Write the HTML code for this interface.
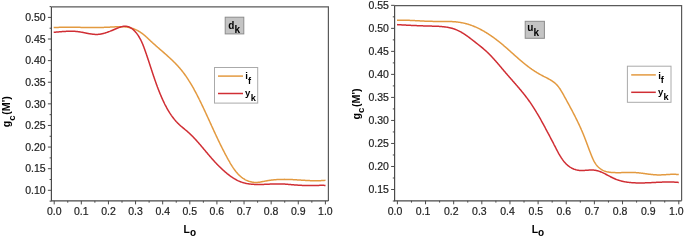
<!DOCTYPE html>
<html><head><meta charset="utf-8"><style>
html,body{margin:0;padding:0;background:#fff;}
body{width:685px;height:241px;overflow:hidden;}
svg{display:block;will-change:transform;}
text{font-family:"Liberation Sans",sans-serif;}
.tk{font-size:10.5px;fill:#222222;stroke:#222222;stroke-width:0.2px;}
.tt{font-size:10.0px;font-weight:bold;fill:#000;}
.ts{font-size:10px;font-weight:bold;fill:#000;}
</style></head><body>
<svg width="685" height="241" viewBox="0 0 685 241">
<path d="M51.40,6.90 H328.40 V200.90" fill="none" stroke="#5a5a5a" stroke-width="1.20"/>
<path d="M51.40,6.90 V200.90 H328.40" fill="none" stroke="#4a4a4a" stroke-width="1.20"/>
<text x="45.70" y="194.10" text-anchor="end" class="tk">0.10</text>
<text x="45.70" y="172.49" text-anchor="end" class="tk">0.15</text>
<text x="45.70" y="150.88" text-anchor="end" class="tk">0.20</text>
<text x="45.70" y="129.26" text-anchor="end" class="tk">0.25</text>
<text x="45.70" y="107.65" text-anchor="end" class="tk">0.30</text>
<text x="45.70" y="86.04" text-anchor="end" class="tk">0.35</text>
<text x="45.70" y="64.42" text-anchor="end" class="tk">0.40</text>
<text x="45.70" y="42.81" text-anchor="end" class="tk">0.45</text>
<text x="45.70" y="21.20" text-anchor="end" class="tk">0.50</text>
<text x="54.20" y="215.40" text-anchor="middle" class="tk">0.0</text>
<text x="81.32" y="215.40" text-anchor="middle" class="tk">0.1</text>
<text x="108.44" y="215.40" text-anchor="middle" class="tk">0.2</text>
<text x="135.56" y="215.40" text-anchor="middle" class="tk">0.3</text>
<text x="162.68" y="215.40" text-anchor="middle" class="tk">0.4</text>
<text x="189.80" y="215.40" text-anchor="middle" class="tk">0.5</text>
<text x="216.92" y="215.40" text-anchor="middle" class="tk">0.6</text>
<text x="244.04" y="215.40" text-anchor="middle" class="tk">0.7</text>
<text x="271.16" y="215.40" text-anchor="middle" class="tk">0.8</text>
<text x="298.28" y="215.40" text-anchor="middle" class="tk">0.9</text>
<text x="325.40" y="215.40" text-anchor="middle" class="tk">1.0</text>
<path d="M47.90,190.30 H51.40 M49.60,179.49 H51.40 M49.60,201.11 H51.40 M47.90,168.69 H51.40 M49.60,157.88 H51.40 M47.90,147.07 H51.40 M49.60,136.27 H51.40 M47.90,125.46 H51.40 M49.60,114.66 H51.40 M47.90,103.85 H51.40 M49.60,93.04 H51.40 M47.90,82.24 H51.40 M49.60,71.43 H51.40 M47.90,60.62 H51.40 M49.60,49.82 H51.40 M47.90,39.01 H51.40 M49.60,28.21 H51.40 M47.90,17.40 H51.40 M49.60,6.59 H51.40 M54.20,200.90 V204.40 M67.76,200.90 V202.70 M81.32,200.90 V204.40 M94.88,200.90 V202.70 M108.44,200.90 V204.40 M122.00,200.90 V202.70 M135.56,200.90 V204.40 M149.12,200.90 V202.70 M162.68,200.90 V204.40 M176.24,200.90 V202.70 M189.80,200.90 V204.40 M203.36,200.90 V202.70 M216.92,200.90 V204.40 M230.48,200.90 V202.70 M244.04,200.90 V204.40 M257.60,200.90 V202.70 M271.16,200.90 V204.40 M284.72,200.90 V202.70 M298.28,200.90 V204.40 M311.84,200.90 V202.70 M325.40,200.90 V204.40" fill="none" stroke="#4a4a4a" stroke-width="1.00"/>
<path d="M53.69,27.55 L54.28,27.52 L54.87,27.50 L55.46,27.47 L56.05,27.45 L56.64,27.43 L57.24,27.41 L57.83,27.39 L58.42,27.38 L59.01,27.36 L59.60,27.35 L60.19,27.34 L60.78,27.32 L61.37,27.31 L61.96,27.30 L62.55,27.30 L63.14,27.29 L63.73,27.28 L64.32,27.28 L64.91,27.27 L65.50,27.27 L66.09,27.27 L66.67,27.26 L67.26,27.26 L67.85,27.26 L68.44,27.26 L69.03,27.26 L69.62,27.26 L70.21,27.27 L70.79,27.27 L71.38,27.27 L71.97,27.28 L72.56,27.28 L73.15,27.29 L73.73,27.29 L74.32,27.30 L74.91,27.30 L75.50,27.31 L76.09,27.32 L76.67,27.33 L77.26,27.33 L77.85,27.34 L78.44,27.35 L79.02,27.36 L79.61,27.36 L80.20,27.37 L80.79,27.38 L81.37,27.39 L81.96,27.40 L82.55,27.40 L83.14,27.41 L83.72,27.42 L84.31,27.43 L84.90,27.44 L85.49,27.44 L86.07,27.45 L86.66,27.46 L87.25,27.46 L87.84,27.47 L88.42,27.48 L89.01,27.48 L89.60,27.49 L90.19,27.49 L90.78,27.49 L91.36,27.50 L91.95,27.50 L92.54,27.50 L93.13,27.50 L93.72,27.50 L94.30,27.51 L94.89,27.50 L95.48,27.50 L96.07,27.50 L96.66,27.50 L97.25,27.49 L97.84,27.49 L98.43,27.48 L99.01,27.48 L99.60,27.47 L100.19,27.46 L100.78,27.45 L101.37,27.44 L101.96,27.43 L102.55,27.42 L103.14,27.40 L103.73,27.39 L104.32,27.37 L104.91,27.35 L105.50,27.33 L106.09,27.31 L106.69,27.29 L107.28,27.27 L107.87,27.24 L108.46,27.21 L109.05,27.19 L109.64,27.16 L110.24,27.12 L110.83,27.09 L111.42,27.06 L112.01,27.02 L112.60,26.99 L113.20,26.96 L113.79,26.92 L114.38,26.89 L114.97,26.86 L115.56,26.83 L116.16,26.80 L116.75,26.77 L117.34,26.75 L117.93,26.73 L118.52,26.71 L119.11,26.70 L119.69,26.69 L120.28,26.69 L120.87,26.69 L121.45,26.70 L122.04,26.71 L122.62,26.73 L123.21,26.76 L123.79,26.79 L124.37,26.83 L124.95,26.88 L125.53,26.94 L126.11,27.01 L126.68,27.08 L127.26,27.16 L127.83,27.26 L128.40,27.36 L128.97,27.48 L129.54,27.60 L130.11,27.74 L130.67,27.89 L131.23,28.04 L131.79,28.21 L132.35,28.39 L132.91,28.58 L133.46,28.78 L134.01,28.98 L134.55,29.20 L135.10,29.43 L135.64,29.67 L136.17,29.91 L136.70,30.17 L137.23,30.43 L137.75,30.70 L138.27,30.98 L138.78,31.27 L139.29,31.57 L139.80,31.88 L140.30,32.19 L140.79,32.52 L141.28,32.85 L141.76,33.18 L142.24,33.53 L142.71,33.88 L143.17,34.24 L143.63,34.61 L144.08,34.98 L144.53,35.36 L144.98,35.75 L145.42,36.13 L145.85,36.53 L146.29,36.92 L146.72,37.32 L147.15,37.72 L147.58,38.13 L148.01,38.53 L148.44,38.94 L148.87,39.34 L149.30,39.75 L149.72,40.15 L150.15,40.56 L150.59,40.96 L151.02,41.36 L151.45,41.76 L151.89,42.16 L152.32,42.56 L152.76,42.95 L153.20,43.35 L153.64,43.75 L154.08,44.14 L154.52,44.53 L154.97,44.92 L155.41,45.32 L155.85,45.71 L156.30,46.10 L156.74,46.49 L157.19,46.88 L157.63,47.27 L158.08,47.65 L158.53,48.04 L158.97,48.43 L159.42,48.82 L159.87,49.20 L160.31,49.59 L160.76,49.98 L161.21,50.37 L161.65,50.75 L162.10,51.14 L162.55,51.53 L162.99,51.92 L163.44,52.31 L163.88,52.69 L164.33,53.08 L164.77,53.47 L165.22,53.86 L165.66,54.25 L166.10,54.64 L166.54,55.04 L166.98,55.43 L167.42,55.82 L167.86,56.22 L168.30,56.61 L168.73,57.01 L169.17,57.40 L169.60,57.80 L170.04,58.20 L170.47,58.60 L170.90,59.00 L171.32,59.41 L171.75,59.81 L172.18,60.22 L172.60,60.62 L173.02,61.03 L173.44,61.44 L173.86,61.85 L174.27,62.27 L174.69,62.68 L175.10,63.10 L175.51,63.52 L175.92,63.94 L176.32,64.36 L176.73,64.79 L177.13,65.22 L177.53,65.65 L177.92,66.08 L178.31,66.51 L178.71,66.95 L179.09,67.39 L179.48,67.83 L179.86,68.27 L180.24,68.72 L180.62,69.16 L180.99,69.62 L181.36,70.07 L181.73,70.52 L182.10,70.98 L182.46,71.44 L182.82,71.91 L183.18,72.37 L183.53,72.84 L183.88,73.31 L184.23,73.78 L184.58,74.25 L184.93,74.73 L185.27,75.21 L185.61,75.69 L185.95,76.17 L186.28,76.65 L186.62,77.14 L186.95,77.63 L187.27,78.11 L187.60,78.61 L187.92,79.10 L188.25,79.59 L188.57,80.09 L188.88,80.59 L189.20,81.08 L189.51,81.58 L189.82,82.09 L190.13,82.59 L190.44,83.10 L190.75,83.60 L191.05,84.11 L191.35,84.62 L191.65,85.13 L191.95,85.64 L192.25,86.15 L192.54,86.67 L192.84,87.18 L193.13,87.70 L193.42,88.21 L193.71,88.73 L193.99,89.25 L194.28,89.77 L194.56,90.29 L194.84,90.81 L195.12,91.33 L195.40,91.85 L195.68,92.38 L195.96,92.90 L196.23,93.43 L196.51,93.95 L196.78,94.48 L197.05,95.00 L197.32,95.53 L197.59,96.06 L197.86,96.58 L198.13,97.11 L198.39,97.64 L198.66,98.17 L198.92,98.70 L199.18,99.23 L199.45,99.75 L199.71,100.28 L199.97,100.81 L200.23,101.34 L200.48,101.87 L200.74,102.40 L201.00,102.93 L201.26,103.46 L201.51,103.99 L201.76,104.52 L202.02,105.05 L202.27,105.58 L202.52,106.11 L202.78,106.64 L203.03,107.17 L203.28,107.70 L203.53,108.23 L203.78,108.76 L204.03,109.29 L204.27,109.82 L204.52,110.35 L204.77,110.88 L205.02,111.41 L205.26,111.94 L205.51,112.47 L205.75,113.00 L206.00,113.53 L206.25,114.06 L206.49,114.60 L206.73,115.13 L206.98,115.66 L207.22,116.19 L207.46,116.72 L207.71,117.25 L207.95,117.78 L208.19,118.31 L208.44,118.84 L208.68,119.37 L208.92,119.90 L209.16,120.44 L209.41,120.97 L209.65,121.50 L209.89,122.03 L210.13,122.56 L210.37,123.09 L210.62,123.62 L210.86,124.15 L211.10,124.68 L211.34,125.21 L211.58,125.75 L211.83,126.28 L212.07,126.81 L212.31,127.34 L212.55,127.87 L212.80,128.40 L213.04,128.93 L213.28,129.46 L213.53,129.99 L213.77,130.52 L214.02,131.06 L214.26,131.59 L214.51,132.12 L214.75,132.65 L215.00,133.18 L215.24,133.71 L215.49,134.24 L215.74,134.77 L215.99,135.30 L216.23,135.83 L216.48,136.36 L216.73,136.89 L216.98,137.42 L217.23,137.95 L217.48,138.48 L217.73,139.01 L217.99,139.54 L218.24,140.07 L218.49,140.60 L218.75,141.13 L219.00,141.66 L219.26,142.19 L219.51,142.72 L219.77,143.25 L220.03,143.78 L220.29,144.31 L220.55,144.84 L220.81,145.37 L221.07,145.90 L221.33,146.43 L221.60,146.96 L221.86,147.48 L222.13,148.01 L222.39,148.54 L222.66,149.07 L222.93,149.60 L223.20,150.13 L223.47,150.66 L223.74,151.18 L224.01,151.71 L224.29,152.24 L224.56,152.77 L224.84,153.30 L225.12,153.82 L225.39,154.35 L225.67,154.88 L225.96,155.40 L226.24,155.93 L226.52,156.46 L226.81,156.99 L227.09,157.51 L227.38,158.04 L227.67,158.57 L227.96,159.09 L228.25,159.62 L228.55,160.14 L228.84,160.67 L229.14,161.19 L229.44,161.72 L229.74,162.24 L230.04,162.77 L230.35,163.29 L230.65,163.81 L230.96,164.32 L231.28,164.84 L231.59,165.35 L231.91,165.86 L232.23,166.37 L232.56,166.87 L232.88,167.37 L233.22,167.87 L233.55,168.36 L233.89,168.85 L234.23,169.33 L234.58,169.81 L234.93,170.29 L235.29,170.76 L235.65,171.22 L236.01,171.68 L236.38,172.13 L236.76,172.58 L237.14,173.02 L237.52,173.45 L237.92,173.87 L238.31,174.29 L238.71,174.70 L239.12,175.11 L239.54,175.50 L239.96,175.89 L240.38,176.27 L240.81,176.64 L241.25,177.00 L241.70,177.36 L242.15,177.70 L242.61,178.03 L243.08,178.36 L243.55,178.67 L244.04,178.97 L244.53,179.26 L245.02,179.55 L245.53,179.82 L246.04,180.07 L246.56,180.32 L247.09,180.56 L247.63,180.78 L248.17,180.99 L248.72,181.19 L249.27,181.37 L249.84,181.54 L250.40,181.70 L250.97,181.84 L251.55,181.97 L252.12,182.09 L252.70,182.19 L253.29,182.27 L253.87,182.34 L254.46,182.39 L255.05,182.43 L255.64,182.45 L256.23,182.45 L256.82,182.44 L257.41,182.41 L258.00,182.36 L258.59,182.30 L259.18,182.23 L259.77,182.14 L260.36,182.04 L260.95,181.94 L261.54,181.83 L262.12,181.72 L262.71,181.60 L263.30,181.48 L263.88,181.36 L264.47,181.24 L265.05,181.12 L265.64,181.01 L266.22,180.90 L266.81,180.80 L267.39,180.70 L267.98,180.60 L268.56,180.51 L269.15,180.42 L269.73,180.34 L270.31,180.26 L270.90,180.18 L271.48,180.11 L272.06,180.04 L272.65,179.98 L273.23,179.91 L273.81,179.86 L274.40,179.80 L274.98,179.75 L275.56,179.70 L276.15,179.66 L276.73,179.62 L277.31,179.58 L277.90,179.55 L278.48,179.52 L279.06,179.49 L279.65,179.47 L280.23,179.44 L280.81,179.43 L281.40,179.41 L281.98,179.40 L282.56,179.39 L283.15,179.38 L283.73,179.38 L284.32,179.37 L284.90,179.38 L285.48,179.38 L286.07,179.39 L286.66,179.39 L287.24,179.41 L287.83,179.42 L288.41,179.44 L289.00,179.45 L289.59,179.48 L290.17,179.50 L290.76,179.52 L291.35,179.55 L291.93,179.58 L292.52,179.60 L293.11,179.63 L293.70,179.67 L294.29,179.70 L294.87,179.73 L295.46,179.77 L296.05,179.80 L296.64,179.84 L297.23,179.88 L297.82,179.92 L298.41,179.96 L299.00,179.99 L299.59,180.03 L300.18,180.07 L300.77,180.11 L301.36,180.15 L301.95,180.19 L302.53,180.23 L303.12,180.26 L303.71,180.30 L304.30,180.34 L304.89,180.37 L305.48,180.41 L306.07,180.44 L306.66,180.48 L307.25,180.51 L307.84,180.54 L308.43,180.57 L309.02,180.59 L309.61,180.62 L310.20,180.64 L310.79,180.66 L311.38,180.68 L311.97,180.70 L312.56,180.72 L313.15,180.73 L313.74,180.74 L314.33,180.75 L314.92,180.75 L315.51,180.76 L316.10,180.76 L316.69,180.75 L317.27,180.75 L317.86,180.74 L318.45,180.73 L319.04,180.71 L319.63,180.69 L320.21,180.67 L320.80,180.64 L321.39,180.61 L321.98,180.57 L322.56,180.53 L323.15,180.49 L323.74,180.44 L324.32,180.39 L324.91,180.34 L325.49,180.27" fill="none" stroke="#e39a40" stroke-width="1.50" stroke-linejoin="round" stroke-linecap="butt"/>
<path d="M53.68,32.27 L54.29,32.23 L54.90,32.19 L55.51,32.15 L56.11,32.10 L56.71,32.06 L57.32,32.01 L57.92,31.96 L58.52,31.91 L59.12,31.86 L59.71,31.81 L60.31,31.77 L60.91,31.72 L61.50,31.67 L62.09,31.62 L62.69,31.58 L63.28,31.53 L63.87,31.49 L64.46,31.45 L65.05,31.42 L65.64,31.38 L66.23,31.35 L66.82,31.32 L67.41,31.29 L68.00,31.27 L68.59,31.25 L69.18,31.23 L69.77,31.22 L70.36,31.22 L70.95,31.21 L71.55,31.22 L72.14,31.23 L72.73,31.24 L73.32,31.26 L73.91,31.28 L74.51,31.32 L75.10,31.35 L75.70,31.40 L76.30,31.45 L76.89,31.51 L77.49,31.58 L78.09,31.65 L78.69,31.73 L79.30,31.82 L79.90,31.92 L80.50,32.02 L81.11,32.12 L81.72,32.23 L82.32,32.35 L82.93,32.46 L83.54,32.58 L84.14,32.70 L84.75,32.82 L85.36,32.94 L85.96,33.07 L86.57,33.19 L87.18,33.31 L87.78,33.42 L88.39,33.53 L88.99,33.64 L89.60,33.75 L90.20,33.85 L90.80,33.94 L91.40,34.03 L92.00,34.11 L92.60,34.19 L93.19,34.25 L93.79,34.31 L94.38,34.35 L94.97,34.39 L95.56,34.41 L96.14,34.42 L96.73,34.42 L97.31,34.41 L97.89,34.38 L98.46,34.34 L99.03,34.29 L99.61,34.22 L100.18,34.14 L100.74,34.05 L101.31,33.95 L101.87,33.84 L102.44,33.72 L103.00,33.58 L103.56,33.44 L104.12,33.29 L104.68,33.13 L105.24,32.96 L105.80,32.78 L106.36,32.60 L106.91,32.41 L107.47,32.21 L108.03,32.01 L108.59,31.80 L109.15,31.58 L109.71,31.37 L110.27,31.14 L110.83,30.92 L111.40,30.69 L111.96,30.45 L112.53,30.22 L113.09,29.98 L113.66,29.74 L114.23,29.50 L114.81,29.26 L115.38,29.02 L115.96,28.77 L116.54,28.53 L117.13,28.29 L117.71,28.06 L118.30,27.83 L118.88,27.61 L119.47,27.40 L120.06,27.20 L120.64,27.01 L121.23,26.84 L121.81,26.69 L122.39,26.55 L122.97,26.44 L123.54,26.35 L124.11,26.28 L124.67,26.24 L125.23,26.23 L125.79,26.25 L126.34,26.30 L126.88,26.38 L127.41,26.49 L127.94,26.63 L128.47,26.80 L128.98,27.00 L129.49,27.22 L130.00,27.46 L130.49,27.73 L130.98,28.02 L131.47,28.33 L131.94,28.66 L132.41,29.01 L132.87,29.38 L133.32,29.77 L133.76,30.18 L134.20,30.60 L134.63,31.03 L135.05,31.48 L135.46,31.94 L135.87,32.41 L136.26,32.89 L136.65,33.38 L137.03,33.88 L137.40,34.39 L137.76,34.90 L138.11,35.42 L138.45,35.95 L138.79,36.47 L139.11,37.00 L139.43,37.53 L139.73,38.07 L140.03,38.60 L140.32,39.14 L140.60,39.67 L140.88,40.21 L141.14,40.75 L141.40,41.30 L141.66,41.84 L141.91,42.39 L142.15,42.93 L142.39,43.48 L142.62,44.03 L142.85,44.58 L143.07,45.13 L143.29,45.69 L143.50,46.24 L143.71,46.79 L143.92,47.35 L144.13,47.91 L144.33,48.46 L144.54,49.02 L144.74,49.58 L144.94,50.14 L145.14,50.70 L145.33,51.26 L145.53,51.82 L145.73,52.38 L145.92,52.94 L146.12,53.51 L146.31,54.07 L146.50,54.63 L146.70,55.20 L146.89,55.76 L147.08,56.32 L147.27,56.89 L147.46,57.46 L147.65,58.02 L147.84,58.59 L148.02,59.15 L148.21,59.72 L148.40,60.29 L148.59,60.85 L148.77,61.42 L148.96,61.99 L149.15,62.56 L149.33,63.13 L149.52,63.69 L149.71,64.26 L149.89,64.83 L150.08,65.40 L150.26,65.97 L150.45,66.54 L150.63,67.11 L150.82,67.68 L151.01,68.25 L151.19,68.82 L151.38,69.38 L151.57,69.95 L151.75,70.52 L151.94,71.09 L152.13,71.66 L152.31,72.23 L152.50,72.80 L152.69,73.37 L152.88,73.94 L153.07,74.51 L153.26,75.08 L153.45,75.64 L153.64,76.21 L153.83,76.78 L154.03,77.35 L154.22,77.92 L154.41,78.48 L154.61,79.05 L154.80,79.62 L155.00,80.19 L155.20,80.75 L155.40,81.32 L155.59,81.88 L155.79,82.45 L156.00,83.01 L156.20,83.58 L156.40,84.14 L156.61,84.71 L156.81,85.27 L157.02,85.83 L157.23,86.39 L157.43,86.96 L157.65,87.52 L157.86,88.08 L158.07,88.64 L158.28,89.20 L158.50,89.76 L158.72,90.32 L158.94,90.87 L159.16,91.43 L159.38,91.99 L159.60,92.55 L159.83,93.10 L160.06,93.66 L160.28,94.21 L160.51,94.76 L160.75,95.32 L160.98,95.87 L161.22,96.42 L161.45,96.97 L161.69,97.52 L161.94,98.07 L162.18,98.61 L162.42,99.16 L162.67,99.71 L162.92,100.25 L163.17,100.80 L163.43,101.34 L163.68,101.88 L163.94,102.42 L164.20,102.96 L164.47,103.50 L164.73,104.04 L165.00,104.57 L165.27,105.11 L165.55,105.64 L165.82,106.17 L166.10,106.70 L166.39,107.23 L166.67,107.75 L166.96,108.28 L167.25,108.80 L167.55,109.32 L167.84,109.83 L168.15,110.35 L168.45,110.86 L168.76,111.37 L169.07,111.88 L169.39,112.39 L169.70,112.89 L170.03,113.39 L170.35,113.89 L170.68,114.38 L171.02,114.87 L171.35,115.36 L171.70,115.85 L172.04,116.33 L172.39,116.81 L172.75,117.28 L173.11,117.75 L173.47,118.22 L173.84,118.69 L174.21,119.15 L174.58,119.61 L174.96,120.06 L175.35,120.52 L175.74,120.96 L176.14,121.41 L176.54,121.84 L176.94,122.28 L177.35,122.71 L177.76,123.14 L178.18,123.56 L178.61,123.98 L179.04,124.39 L179.47,124.80 L179.92,125.20 L180.36,125.60 L180.81,126.00 L181.27,126.39 L181.73,126.78 L182.19,127.17 L182.65,127.55 L183.12,127.94 L183.58,128.32 L184.05,128.70 L184.52,129.09 L184.99,129.47 L185.45,129.86 L185.92,130.24 L186.38,130.63 L186.84,131.02 L187.30,131.42 L187.75,131.81 L188.21,132.22 L188.65,132.62 L189.10,133.03 L189.54,133.44 L189.98,133.85 L190.42,134.27 L190.85,134.68 L191.28,135.10 L191.71,135.53 L192.14,135.95 L192.56,136.38 L192.98,136.81 L193.40,137.24 L193.82,137.68 L194.23,138.11 L194.64,138.55 L195.05,138.99 L195.46,139.43 L195.87,139.88 L196.27,140.32 L196.68,140.77 L197.08,141.22 L197.48,141.67 L197.87,142.12 L198.27,142.57 L198.67,143.02 L199.06,143.47 L199.45,143.93 L199.84,144.38 L200.24,144.84 L200.62,145.29 L201.01,145.75 L201.40,146.21 L201.79,146.66 L202.17,147.12 L202.56,147.58 L202.94,148.04 L203.33,148.50 L203.71,148.95 L204.09,149.41 L204.48,149.87 L204.86,150.32 L205.24,150.78 L205.62,151.24 L206.00,151.69 L206.39,152.15 L206.77,152.60 L207.15,153.05 L207.53,153.51 L207.91,153.96 L208.30,154.41 L208.68,154.86 L209.06,155.31 L209.45,155.76 L209.83,156.21 L210.22,156.66 L210.61,157.10 L210.99,157.55 L211.38,157.99 L211.77,158.44 L212.16,158.88 L212.55,159.32 L212.95,159.76 L213.34,160.20 L213.74,160.64 L214.14,161.08 L214.53,161.51 L214.93,161.95 L215.34,162.38 L215.74,162.82 L216.15,163.25 L216.55,163.68 L216.96,164.11 L217.38,164.53 L217.79,164.96 L218.21,165.38 L218.62,165.81 L219.04,166.23 L219.47,166.65 L219.89,167.07 L220.32,167.49 L220.75,167.90 L221.19,168.32 L221.62,168.73 L222.06,169.14 L222.50,169.55 L222.95,169.96 L223.40,170.37 L223.85,170.77 L224.30,171.17 L224.76,171.57 L225.22,171.97 L225.69,172.37 L226.16,172.76 L226.63,173.16 L227.10,173.55 L227.58,173.93 L228.06,174.31 L228.55,174.69 L229.04,175.07 L229.53,175.44 L230.02,175.81 L230.52,176.17 L231.02,176.53 L231.52,176.88 L232.03,177.22 L232.54,177.56 L233.05,177.90 L233.57,178.22 L234.08,178.54 L234.61,178.86 L235.13,179.16 L235.66,179.46 L236.18,179.75 L236.72,180.03 L237.25,180.31 L237.79,180.57 L238.33,180.83 L238.87,181.07 L239.41,181.31 L239.96,181.54 L240.51,181.75 L241.06,181.96 L241.61,182.16 L242.17,182.34 L242.73,182.52 L243.29,182.69 L243.85,182.85 L244.42,183.00 L244.98,183.14 L245.55,183.27 L246.12,183.40 L246.70,183.52 L247.27,183.62 L247.85,183.73 L248.43,183.82 L249.01,183.91 L249.59,183.99 L250.17,184.06 L250.75,184.13 L251.34,184.19 L251.93,184.24 L252.52,184.29 L253.11,184.34 L253.70,184.37 L254.29,184.41 L254.88,184.43 L255.48,184.46 L256.07,184.47 L256.67,184.49 L257.27,184.50 L257.87,184.50 L258.47,184.50 L259.07,184.50 L259.67,184.50 L260.27,184.49 L260.87,184.48 L261.48,184.47 L262.08,184.45 L262.68,184.43 L263.29,184.41 L263.89,184.39 L264.50,184.37 L265.11,184.34 L265.71,184.31 L266.32,184.29 L266.92,184.26 L267.53,184.23 L268.14,184.20 L268.74,184.17 L269.35,184.15 L269.96,184.12 L270.56,184.09 L271.17,184.06 L271.78,184.04 L272.38,184.01 L272.99,183.99 L273.59,183.97 L274.20,183.95 L274.80,183.93 L275.40,183.91 L276.01,183.90 L276.61,183.89 L277.21,183.88 L277.81,183.88 L278.41,183.88 L279.01,183.88 L279.61,183.89 L280.21,183.90 L280.80,183.91 L281.40,183.93 L281.99,183.95 L282.58,183.98 L283.18,184.01 L283.77,184.04 L284.36,184.07 L284.95,184.11 L285.54,184.15 L286.13,184.19 L286.72,184.24 L287.31,184.28 L287.90,184.33 L288.49,184.38 L289.08,184.43 L289.67,184.48 L290.26,184.53 L290.84,184.58 L291.43,184.63 L292.02,184.68 L292.61,184.74 L293.20,184.79 L293.79,184.84 L294.38,184.89 L294.97,184.94 L295.56,184.99 L296.15,185.03 L296.75,185.08 L297.34,185.12 L297.93,185.16 L298.53,185.20 L299.12,185.24 L299.72,185.27 L300.31,185.30 L300.91,185.33 L301.51,185.35 L302.11,185.38 L302.71,185.40 L303.31,185.41 L303.92,185.43 L304.52,185.44 L305.12,185.45 L305.73,185.46 L306.33,185.47 L306.93,185.47 L307.54,185.47 L308.14,185.47 L308.75,185.47 L309.35,185.47 L309.96,185.47 L310.56,185.47 L311.17,185.46 L311.77,185.46 L312.38,185.45 L312.98,185.45 L313.59,185.44 L314.19,185.43 L314.79,185.43 L315.40,185.42 L316.00,185.41 L316.60,185.40 L317.20,185.40 L317.80,185.39 L318.40,185.39 L319.00,185.38 L319.59,185.37 L320.19,185.37 L320.79,185.37 L321.38,185.37 L321.97,185.37 L322.56,185.37 L323.15,185.37 L323.74,185.37 L324.33,185.38 L324.92,185.39 L325.50,185.39" fill="none" stroke="#d02e34" stroke-width="1.50" stroke-linejoin="round" stroke-linecap="butt"/>
<rect x="225.20" y="17.20" width="18.60" height="16.70" fill="#c4c4c4" stroke="#8c8c8c" stroke-width="1"/>
<text x="228.20" y="29.00" class="tt">d</text>
<text x="234.40" y="33.20" class="ts">k</text>
<rect x="214.50" y="67.50" width="43.20" height="35.60" fill="#fff" stroke="#aaaaaa" stroke-width="1"/>
<path d="M218.00,76.10 H243.00" stroke="#e39a40" stroke-width="1.50"/>
<path d="M218.00,93.50 H243.00" stroke="#d02e34" stroke-width="1.50"/>
<text x="245.20" y="79.40" class="tt" style="font-size:9.60px">i</text>
<text x="247.90" y="84.10" class="ts" style="font-size:9.20px">f</text>
<text x="245.10" y="96.30" class="tt" style="font-size:9.60px">y</text>
<text x="250.80" y="100.90" class="ts" style="font-size:9.20px">k</text>
<text x="183.60" y="232.60" class="tt" style="font-size:10.40px">L</text>
<text x="189.90" y="236.40" class="ts" style="font-size:10.00px">o</text>
<g transform="translate(10.20,127.30) rotate(-90)">
<text x="0.00" y="0.00" class="tt" style="font-size:10.70px">g</text>
<text x="6.50" y="4.40" class="ts" style="font-size:9.60px">c</text>
<text x="12.60" y="0.00" class="tt" style="font-size:10.70px">(M')</text>
</g>
<path d="M394.60,5.60 H681.60 V200.80" fill="none" stroke="#5a5a5a" stroke-width="1.20"/>
<path d="M394.60,5.60 V200.80 H681.60" fill="none" stroke="#4a4a4a" stroke-width="1.20"/>
<text x="388.90" y="193.30" text-anchor="end" class="tk">0.15</text>
<text x="388.90" y="170.28" text-anchor="end" class="tk">0.20</text>
<text x="388.90" y="147.26" text-anchor="end" class="tk">0.25</text>
<text x="388.90" y="124.24" text-anchor="end" class="tk">0.30</text>
<text x="388.90" y="101.21" text-anchor="end" class="tk">0.35</text>
<text x="388.90" y="78.19" text-anchor="end" class="tk">0.40</text>
<text x="388.90" y="55.17" text-anchor="end" class="tk">0.45</text>
<text x="388.90" y="32.15" text-anchor="end" class="tk">0.50</text>
<text x="388.90" y="9.13" text-anchor="end" class="tk">0.55</text>
<text x="395.00" y="215.30" text-anchor="middle" class="tk">0.0</text>
<text x="423.14" y="215.30" text-anchor="middle" class="tk">0.1</text>
<text x="451.28" y="215.30" text-anchor="middle" class="tk">0.2</text>
<text x="479.42" y="215.30" text-anchor="middle" class="tk">0.3</text>
<text x="507.56" y="215.30" text-anchor="middle" class="tk">0.4</text>
<text x="535.70" y="215.30" text-anchor="middle" class="tk">0.5</text>
<text x="563.84" y="215.30" text-anchor="middle" class="tk">0.6</text>
<text x="591.98" y="215.30" text-anchor="middle" class="tk">0.7</text>
<text x="620.12" y="215.30" text-anchor="middle" class="tk">0.8</text>
<text x="648.26" y="215.30" text-anchor="middle" class="tk">0.9</text>
<text x="676.40" y="215.30" text-anchor="middle" class="tk">1.0</text>
<path d="M391.10,189.50 H394.60 M392.80,177.99 H394.60 M392.80,201.01 H394.60 M391.10,166.48 H394.60 M392.80,154.97 H394.60 M391.10,143.46 H394.60 M392.80,131.95 H394.60 M391.10,120.44 H394.60 M392.80,108.93 H394.60 M391.10,97.41 H394.60 M392.80,85.90 H394.60 M391.10,74.39 H394.60 M392.80,62.88 H394.60 M391.10,51.37 H394.60 M392.80,39.86 H394.60 M391.10,28.35 H394.60 M392.80,16.84 H394.60 M391.10,5.33 H394.60 M397.40,200.80 V204.30 M411.47,200.80 V202.60 M425.54,200.80 V204.30 M439.61,200.80 V202.60 M453.68,200.80 V204.30 M467.75,200.80 V202.60 M481.82,200.80 V204.30 M495.89,200.80 V202.60 M509.96,200.80 V204.30 M524.03,200.80 V202.60 M538.10,200.80 V204.30 M552.17,200.80 V202.60 M566.24,200.80 V204.30 M580.31,200.80 V202.60 M594.38,200.80 V204.30 M608.45,200.80 V202.60 M622.52,200.80 V204.30 M636.59,200.80 V202.60 M650.66,200.80 V204.30 M664.73,200.80 V202.60 M678.80,200.80 V204.30" fill="none" stroke="#4a4a4a" stroke-width="1.00"/>
<path d="M396.98,20.23 L397.59,20.21 L398.19,20.20 L398.80,20.19 L399.40,20.18 L400.00,20.17 L400.60,20.17 L401.20,20.17 L401.80,20.17 L402.39,20.17 L402.99,20.18 L403.58,20.19 L404.18,20.20 L404.77,20.21 L405.36,20.22 L405.95,20.24 L406.54,20.25 L407.13,20.27 L407.72,20.29 L408.31,20.31 L408.90,20.33 L409.49,20.36 L410.07,20.38 L410.66,20.40 L411.25,20.43 L411.83,20.46 L412.42,20.49 L413.00,20.52 L413.59,20.54 L414.17,20.57 L414.75,20.61 L415.34,20.64 L415.92,20.67 L416.51,20.70 L417.09,20.73 L417.67,20.76 L418.26,20.79 L418.84,20.83 L419.42,20.86 L420.01,20.89 L420.59,20.92 L421.17,20.95 L421.76,20.98 L422.34,21.01 L422.93,21.04 L423.51,21.07 L424.10,21.10 L424.68,21.13 L425.27,21.15 L425.85,21.18 L426.44,21.20 L427.03,21.23 L427.61,21.25 L428.20,21.27 L428.79,21.29 L429.38,21.30 L429.97,21.32 L430.56,21.34 L431.15,21.35 L431.75,21.36 L432.34,21.37 L432.93,21.38 L433.53,21.38 L434.12,21.39 L434.72,21.39 L435.32,21.39 L435.92,21.39 L436.51,21.40 L437.11,21.40 L437.71,21.39 L438.31,21.39 L438.91,21.39 L439.51,21.39 L440.11,21.39 L440.71,21.39 L441.31,21.39 L441.91,21.39 L442.51,21.39 L443.11,21.39 L443.71,21.39 L444.31,21.39 L444.91,21.40 L445.51,21.40 L446.11,21.41 L446.71,21.42 L447.31,21.43 L447.91,21.45 L448.51,21.46 L449.10,21.48 L449.70,21.50 L450.30,21.52 L450.89,21.55 L451.49,21.58 L452.08,21.61 L452.68,21.64 L453.27,21.68 L453.86,21.72 L454.45,21.77 L455.04,21.82 L455.63,21.87 L456.22,21.93 L456.81,21.99 L457.39,22.06 L457.98,22.13 L458.56,22.20 L459.14,22.28 L459.73,22.37 L460.30,22.46 L460.88,22.55 L461.46,22.65 L462.03,22.76 L462.61,22.87 L463.18,22.99 L463.75,23.12 L464.32,23.25 L464.88,23.38 L465.45,23.52 L466.01,23.67 L466.57,23.82 L467.13,23.98 L467.69,24.14 L468.25,24.31 L468.81,24.48 L469.36,24.66 L469.91,24.84 L470.46,25.03 L471.01,25.22 L471.56,25.42 L472.11,25.62 L472.65,25.83 L473.20,26.04 L473.74,26.26 L474.28,26.48 L474.82,26.70 L475.35,26.93 L475.89,27.17 L476.42,27.41 L476.96,27.65 L477.49,27.90 L478.02,28.15 L478.55,28.40 L479.07,28.66 L479.60,28.93 L480.12,29.19 L480.64,29.46 L481.16,29.74 L481.68,30.02 L482.20,30.30 L482.72,30.59 L483.23,30.87 L483.74,31.17 L484.25,31.46 L484.77,31.76 L485.27,32.07 L485.78,32.37 L486.29,32.68 L486.79,32.99 L487.29,33.31 L487.79,33.63 L488.29,33.95 L488.79,34.27 L489.29,34.60 L489.79,34.93 L490.28,35.26 L490.77,35.60 L491.26,35.94 L491.75,36.28 L492.24,36.62 L492.73,36.97 L493.21,37.31 L493.70,37.66 L494.18,38.02 L494.66,38.37 L495.14,38.73 L495.62,39.08 L496.10,39.44 L496.57,39.81 L497.05,40.17 L497.52,40.54 L497.99,40.91 L498.46,41.27 L498.93,41.65 L499.40,42.02 L499.86,42.39 L500.33,42.77 L500.79,43.15 L501.25,43.52 L501.71,43.90 L502.17,44.29 L502.63,44.67 L503.08,45.05 L503.54,45.43 L503.99,45.82 L504.44,46.21 L504.90,46.59 L505.35,46.98 L505.79,47.37 L506.24,47.76 L506.69,48.15 L507.13,48.54 L507.58,48.93 L508.02,49.32 L508.46,49.71 L508.90,50.11 L509.34,50.50 L509.78,50.89 L510.22,51.28 L510.66,51.68 L511.10,52.07 L511.54,52.46 L511.98,52.86 L512.41,53.25 L512.85,53.64 L513.29,54.04 L513.73,54.43 L514.16,54.82 L514.60,55.21 L515.04,55.61 L515.48,56.00 L515.91,56.39 L516.35,56.78 L516.79,57.17 L517.23,57.56 L517.67,57.94 L518.11,58.33 L518.55,58.72 L518.99,59.10 L519.44,59.49 L519.88,59.87 L520.33,60.25 L520.77,60.63 L521.22,61.01 L521.67,61.39 L522.12,61.77 L522.57,62.15 L523.02,62.52 L523.47,62.90 L523.93,63.27 L524.38,63.64 L524.84,64.01 L525.30,64.37 L525.76,64.74 L526.22,65.10 L526.68,65.46 L527.15,65.82 L527.61,66.18 L528.08,66.54 L528.55,66.89 L529.02,67.24 L529.50,67.59 L529.97,67.94 L530.45,68.28 L530.93,68.63 L531.41,68.97 L531.89,69.31 L532.38,69.64 L532.86,69.98 L533.35,70.31 L533.84,70.63 L534.34,70.96 L534.83,71.28 L535.33,71.60 L535.83,71.92 L536.33,72.23 L536.84,72.54 L537.34,72.85 L537.85,73.16 L538.36,73.46 L538.88,73.76 L539.39,74.05 L539.91,74.34 L540.44,74.63 L540.96,74.92 L541.49,75.20 L542.02,75.48 L542.55,75.76 L543.08,76.03 L543.61,76.31 L544.15,76.58 L544.68,76.85 L545.21,77.12 L545.75,77.39 L546.28,77.67 L546.81,77.94 L547.34,78.22 L547.86,78.50 L548.38,78.78 L548.90,79.06 L549.42,79.35 L549.93,79.64 L550.44,79.94 L550.94,80.25 L551.44,80.55 L551.93,80.87 L552.41,81.19 L552.89,81.52 L553.36,81.86 L553.82,82.20 L554.28,82.56 L554.73,82.92 L555.17,83.29 L555.59,83.68 L556.01,84.07 L556.42,84.47 L556.82,84.89 L557.21,85.31 L557.60,85.75 L557.97,86.19 L558.33,86.65 L558.69,87.11 L559.04,87.58 L559.38,88.06 L559.72,88.54 L560.05,89.03 L560.38,89.52 L560.70,90.03 L561.01,90.53 L561.32,91.04 L561.63,91.56 L561.93,92.08 L562.23,92.60 L562.53,93.12 L562.83,93.64 L563.12,94.17 L563.41,94.70 L563.70,95.23 L563.99,95.75 L564.28,96.28 L564.57,96.81 L564.86,97.33 L565.15,97.86 L565.44,98.39 L565.73,98.91 L566.02,99.44 L566.31,99.96 L566.60,100.49 L566.88,101.01 L567.17,101.54 L567.46,102.06 L567.74,102.58 L568.03,103.11 L568.31,103.63 L568.60,104.15 L568.88,104.68 L569.17,105.20 L569.45,105.72 L569.73,106.25 L570.01,106.77 L570.29,107.29 L570.57,107.82 L570.85,108.34 L571.13,108.86 L571.41,109.39 L571.68,109.91 L571.96,110.43 L572.24,110.96 L572.51,111.48 L572.79,112.00 L573.06,112.53 L573.33,113.05 L573.60,113.57 L573.87,114.10 L574.14,114.62 L574.41,115.15 L574.68,115.67 L574.95,116.20 L575.21,116.72 L575.48,117.25 L575.74,117.77 L576.01,118.30 L576.27,118.83 L576.53,119.35 L576.79,119.88 L577.05,120.41 L577.31,120.94 L577.56,121.47 L577.82,122.00 L578.07,122.53 L578.33,123.06 L578.58,123.59 L578.83,124.12 L579.08,124.65 L579.33,125.18 L579.57,125.71 L579.82,126.25 L580.06,126.78 L580.31,127.31 L580.55,127.85 L580.79,128.38 L581.03,128.92 L581.27,129.46 L581.50,130.00 L581.74,130.53 L581.97,131.07 L582.20,131.61 L582.43,132.15 L582.66,132.70 L582.89,133.24 L583.11,133.78 L583.34,134.33 L583.56,134.87 L583.78,135.42 L584.00,135.96 L584.22,136.51 L584.44,137.06 L584.65,137.61 L584.87,138.16 L585.08,138.71 L585.29,139.26 L585.50,139.81 L585.71,140.36 L585.92,140.92 L586.13,141.47 L586.33,142.02 L586.54,142.58 L586.75,143.13 L586.95,143.69 L587.16,144.25 L587.37,144.80 L587.57,145.36 L587.78,145.91 L587.99,146.47 L588.19,147.03 L588.40,147.59 L588.61,148.14 L588.82,148.70 L589.02,149.26 L589.23,149.81 L589.44,150.37 L589.66,150.93 L589.87,151.49 L590.08,152.04 L590.30,152.60 L590.52,153.15 L590.73,153.71 L590.95,154.27 L591.18,154.82 L591.40,155.38 L591.63,155.93 L591.85,156.48 L592.08,157.04 L592.32,157.59 L592.56,158.14 L592.80,158.68 L593.05,159.22 L593.30,159.76 L593.56,160.30 L593.83,160.83 L594.10,161.35 L594.38,161.87 L594.68,162.38 L594.98,162.88 L595.29,163.38 L595.62,163.86 L595.95,164.34 L596.30,164.81 L596.66,165.27 L597.04,165.72 L597.43,166.15 L597.83,166.58 L598.25,166.99 L598.68,167.39 L599.12,167.78 L599.57,168.15 L600.04,168.51 L600.51,168.86 L601.00,169.19 L601.49,169.50 L602.00,169.80 L602.51,170.09 L603.03,170.36 L603.56,170.61 L604.10,170.85 L604.64,171.07 L605.19,171.27 L605.75,171.45 L606.31,171.61 L606.88,171.76 L607.45,171.89 L608.02,172.00 L608.60,172.10 L609.18,172.19 L609.77,172.27 L610.36,172.33 L610.94,172.39 L611.53,172.44 L612.12,172.48 L612.71,172.52 L613.30,172.55 L613.89,172.58 L614.48,172.60 L615.07,172.62 L615.67,172.63 L616.26,172.64 L616.85,172.65 L617.44,172.65 L618.03,172.66 L618.62,172.65 L619.21,172.65 L619.81,172.65 L620.40,172.64 L620.99,172.63 L621.58,172.62 L622.17,172.61 L622.76,172.59 L623.36,172.58 L623.95,172.57 L624.54,172.55 L625.13,172.54 L625.72,172.53 L626.31,172.52 L626.91,172.50 L627.50,172.49 L628.09,172.49 L628.68,172.48 L629.27,172.47 L629.86,172.47 L630.45,172.47 L631.04,172.47 L631.63,172.48 L632.22,172.49 L632.81,172.50 L633.40,172.52 L633.99,172.54 L634.58,172.56 L635.17,172.59 L635.76,172.62 L636.35,172.66 L636.94,172.71 L637.53,172.76 L638.11,172.81 L638.70,172.87 L639.29,172.93 L639.88,172.99 L640.46,173.06 L641.05,173.13 L641.64,173.20 L642.22,173.28 L642.81,173.35 L643.40,173.43 L643.98,173.51 L644.57,173.59 L645.15,173.67 L645.74,173.75 L646.33,173.83 L646.91,173.91 L647.50,173.99 L648.09,174.07 L648.67,174.15 L649.26,174.22 L649.85,174.29 L650.43,174.36 L651.02,174.43 L651.61,174.50 L652.20,174.56 L652.78,174.62 L653.37,174.67 L653.96,174.72 L654.55,174.77 L655.14,174.81 L655.73,174.84 L656.32,174.87 L656.91,174.90 L657.50,174.91 L658.09,174.92 L658.68,174.93 L659.27,174.93 L659.86,174.92 L660.45,174.91 L661.05,174.89 L661.64,174.87 L662.23,174.84 L662.83,174.81 L663.42,174.78 L664.01,174.75 L664.61,174.71 L665.20,174.68 L665.79,174.64 L666.39,174.60 L666.98,174.56 L667.57,174.53 L668.17,174.49 L668.76,174.46 L669.35,174.42 L669.95,174.40 L670.54,174.37 L671.13,174.35 L671.72,174.33 L672.32,174.31 L672.91,174.31 L673.50,174.30 L674.09,174.30 L674.68,174.31 L675.27,174.33 L675.86,174.35 L676.45,174.39 L677.04,174.43 L677.63,174.48 L678.21,174.54 L678.80,174.60" fill="none" stroke="#e39a40" stroke-width="1.50" stroke-linejoin="round" stroke-linecap="butt"/>
<path d="M396.99,24.59 L397.59,24.63 L398.19,24.67 L398.79,24.71 L399.38,24.74 L399.98,24.78 L400.57,24.81 L401.17,24.85 L401.76,24.88 L402.35,24.92 L402.94,24.95 L403.53,24.99 L404.12,25.02 L404.71,25.05 L405.30,25.09 L405.88,25.12 L406.47,25.15 L407.06,25.18 L407.64,25.21 L408.23,25.24 L408.81,25.27 L409.40,25.30 L409.98,25.33 L410.56,25.36 L411.15,25.39 L411.73,25.42 L412.31,25.44 L412.89,25.47 L413.48,25.50 L414.06,25.52 L414.64,25.55 L415.22,25.57 L415.80,25.60 L416.39,25.62 L416.97,25.65 L417.55,25.67 L418.13,25.69 L418.71,25.72 L419.30,25.74 L419.88,25.76 L420.46,25.78 L421.04,25.80 L421.63,25.83 L422.21,25.85 L422.80,25.87 L423.38,25.89 L423.97,25.90 L424.55,25.92 L425.14,25.94 L425.73,25.96 L426.31,25.98 L426.90,25.99 L427.49,26.01 L428.08,26.03 L428.67,26.04 L429.26,26.06 L429.86,26.07 L430.45,26.09 L431.04,26.10 L431.64,26.12 L432.24,26.13 L432.83,26.15 L433.43,26.16 L434.02,26.18 L434.62,26.20 L435.22,26.22 L435.82,26.24 L436.41,26.26 L437.01,26.29 L437.61,26.31 L438.20,26.34 L438.80,26.37 L439.40,26.41 L439.99,26.45 L440.58,26.49 L441.18,26.53 L441.77,26.58 L442.36,26.63 L442.95,26.69 L443.54,26.75 L444.13,26.82 L444.72,26.89 L445.30,26.96 L445.88,27.04 L446.46,27.13 L447.04,27.22 L447.62,27.32 L448.20,27.42 L448.77,27.53 L449.34,27.65 L449.91,27.77 L450.48,27.90 L451.04,28.04 L451.61,28.18 L452.17,28.34 L452.72,28.50 L453.28,28.67 L453.83,28.84 L454.37,29.03 L454.92,29.23 L455.46,29.43 L456.00,29.64 L456.53,29.86 L457.07,30.09 L457.59,30.33 L458.12,30.57 L458.64,30.83 L459.16,31.09 L459.68,31.35 L460.20,31.63 L460.71,31.91 L461.22,32.19 L461.73,32.49 L462.23,32.79 L462.73,33.09 L463.24,33.40 L463.73,33.72 L464.23,34.04 L464.72,34.36 L465.22,34.69 L465.71,35.02 L466.20,35.36 L466.68,35.70 L467.17,36.05 L467.65,36.39 L468.14,36.74 L468.62,37.10 L469.10,37.45 L469.57,37.81 L470.05,38.17 L470.53,38.53 L471.00,38.90 L471.48,39.26 L471.95,39.63 L472.42,39.99 L472.89,40.36 L473.36,40.73 L473.83,41.10 L474.30,41.46 L474.77,41.83 L475.24,42.20 L475.71,42.56 L476.17,42.93 L476.64,43.29 L477.10,43.66 L477.57,44.02 L478.03,44.39 L478.50,44.75 L478.96,45.12 L479.42,45.48 L479.88,45.85 L480.34,46.21 L480.79,46.58 L481.25,46.95 L481.70,47.32 L482.15,47.69 L482.60,48.07 L483.05,48.44 L483.50,48.82 L483.94,49.20 L484.38,49.58 L484.82,49.96 L485.26,50.35 L485.69,50.74 L486.12,51.13 L486.55,51.53 L486.98,51.93 L487.40,52.33 L487.82,52.73 L488.24,53.14 L488.66,53.55 L489.08,53.96 L489.49,54.37 L489.90,54.79 L490.31,55.21 L490.71,55.63 L491.12,56.05 L491.52,56.47 L491.92,56.90 L492.32,57.33 L492.72,57.76 L493.11,58.19 L493.51,58.63 L493.90,59.06 L494.30,59.50 L494.69,59.94 L495.08,60.38 L495.46,60.82 L495.85,61.26 L496.24,61.71 L496.62,62.15 L497.01,62.60 L497.39,63.04 L497.78,63.49 L498.16,63.94 L498.54,64.39 L498.92,64.84 L499.31,65.29 L499.69,65.74 L500.07,66.19 L500.45,66.64 L500.83,67.09 L501.21,67.54 L501.59,68.00 L501.97,68.45 L502.35,68.90 L502.73,69.35 L503.11,69.80 L503.50,70.25 L503.88,70.70 L504.26,71.15 L504.64,71.60 L505.03,72.05 L505.41,72.50 L505.80,72.95 L506.18,73.39 L506.57,73.84 L506.95,74.28 L507.34,74.73 L507.73,75.17 L508.12,75.62 L508.50,76.06 L508.89,76.51 L509.28,76.95 L509.67,77.39 L510.06,77.84 L510.45,78.28 L510.84,78.72 L511.23,79.17 L511.62,79.61 L512.00,80.05 L512.39,80.49 L512.78,80.94 L513.17,81.38 L513.56,81.82 L513.95,82.27 L514.34,82.71 L514.72,83.15 L515.11,83.60 L515.50,84.04 L515.88,84.48 L516.27,84.93 L516.65,85.37 L517.04,85.82 L517.42,86.26 L517.81,86.71 L518.19,87.16 L518.57,87.60 L518.95,88.05 L519.33,88.50 L519.71,88.95 L520.09,89.40 L520.47,89.85 L520.84,90.30 L521.22,90.75 L521.59,91.20 L521.97,91.66 L522.34,92.11 L522.71,92.57 L523.08,93.02 L523.45,93.48 L523.82,93.94 L524.18,94.40 L524.55,94.86 L524.91,95.32 L525.27,95.79 L525.63,96.25 L525.99,96.72 L526.35,97.18 L526.70,97.65 L527.05,98.12 L527.41,98.59 L527.76,99.06 L528.10,99.54 L528.45,100.01 L528.79,100.49 L529.14,100.97 L529.48,101.45 L529.82,101.93 L530.15,102.41 L530.49,102.89 L530.82,103.38 L531.15,103.87 L531.48,104.36 L531.81,104.85 L532.13,105.34 L532.46,105.83 L532.78,106.32 L533.10,106.82 L533.42,107.31 L533.74,107.81 L534.06,108.31 L534.37,108.81 L534.68,109.31 L534.99,109.81 L535.31,110.31 L535.61,110.81 L535.92,111.32 L536.23,111.82 L536.53,112.33 L536.83,112.84 L537.14,113.34 L537.44,113.85 L537.74,114.36 L538.04,114.87 L538.33,115.38 L538.63,115.89 L538.92,116.40 L539.22,116.92 L539.51,117.43 L539.80,117.94 L540.09,118.45 L540.38,118.97 L540.67,119.48 L540.96,120.00 L541.24,120.51 L541.53,121.03 L541.81,121.54 L542.10,122.06 L542.38,122.57 L542.66,123.09 L542.95,123.61 L543.23,124.12 L543.51,124.64 L543.79,125.15 L544.07,125.67 L544.34,126.19 L544.62,126.70 L544.90,127.22 L545.18,127.74 L545.45,128.25 L545.73,128.77 L546.00,129.28 L546.28,129.80 L546.55,130.31 L546.83,130.83 L547.10,131.34 L547.37,131.86 L547.65,132.37 L547.92,132.88 L548.19,133.40 L548.47,133.91 L548.74,134.42 L549.01,134.94 L549.28,135.45 L549.55,135.97 L549.82,136.48 L550.10,137.00 L550.37,137.51 L550.64,138.03 L550.91,138.55 L551.18,139.06 L551.45,139.58 L551.72,140.10 L551.99,140.62 L552.26,141.14 L552.53,141.66 L552.81,142.18 L553.08,142.70 L553.35,143.22 L553.62,143.75 L553.89,144.27 L554.16,144.80 L554.44,145.32 L554.71,145.85 L554.98,146.38 L555.26,146.91 L555.53,147.45 L555.80,147.98 L556.08,148.51 L556.35,149.05 L556.63,149.59 L556.91,150.12 L557.18,150.66 L557.46,151.19 L557.75,151.73 L558.03,152.26 L558.32,152.79 L558.61,153.32 L558.90,153.85 L559.20,154.37 L559.50,154.90 L559.80,155.42 L560.10,155.93 L560.42,156.44 L560.73,156.95 L561.05,157.46 L561.37,157.96 L561.70,158.45 L562.04,158.94 L562.37,159.42 L562.72,159.90 L563.07,160.37 L563.43,160.84 L563.79,161.30 L564.16,161.75 L564.54,162.19 L564.92,162.62 L565.31,163.05 L565.71,163.47 L566.12,163.88 L566.53,164.28 L566.95,164.67 L567.38,165.06 L567.82,165.43 L568.27,165.79 L568.72,166.14 L569.18,166.48 L569.65,166.81 L570.13,167.13 L570.61,167.43 L571.10,167.72 L571.60,168.00 L572.11,168.27 L572.62,168.52 L573.14,168.76 L573.66,168.99 L574.19,169.20 L574.73,169.39 L575.27,169.57 L575.82,169.74 L576.37,169.89 L576.93,170.02 L577.50,170.14 L578.07,170.24 L578.64,170.32 L579.22,170.39 L579.81,170.44 L580.40,170.47 L580.99,170.49 L581.59,170.50 L582.19,170.50 L582.79,170.48 L583.39,170.46 L584.00,170.43 L584.61,170.40 L585.22,170.36 L585.83,170.32 L586.44,170.27 L587.05,170.23 L587.66,170.18 L588.28,170.14 L588.88,170.10 L589.49,170.07 L590.10,170.05 L590.70,170.03 L591.31,170.02 L591.91,170.02 L592.50,170.03 L593.09,170.06 L593.68,170.10 L594.27,170.16 L594.84,170.23 L595.42,170.32 L595.99,170.42 L596.56,170.54 L597.12,170.68 L597.68,170.82 L598.23,170.98 L598.78,171.15 L599.33,171.34 L599.88,171.53 L600.42,171.74 L600.96,171.95 L601.50,172.18 L602.04,172.41 L602.57,172.65 L603.10,172.89 L603.63,173.15 L604.16,173.40 L604.69,173.67 L605.22,173.94 L605.74,174.21 L606.27,174.48 L606.79,174.76 L607.31,175.04 L607.84,175.32 L608.36,175.60 L608.88,175.88 L609.41,176.16 L609.93,176.44 L610.46,176.72 L610.99,176.99 L611.51,177.26 L612.04,177.53 L612.57,177.79 L613.10,178.05 L613.64,178.30 L614.17,178.54 L614.71,178.78 L615.25,179.01 L615.79,179.23 L616.34,179.45 L616.89,179.65 L617.44,179.85 L617.99,180.04 L618.54,180.22 L619.10,180.40 L619.66,180.56 L620.22,180.72 L620.78,180.88 L621.34,181.02 L621.91,181.16 L622.47,181.30 L623.04,181.43 L623.61,181.55 L624.19,181.66 L624.76,181.77 L625.33,181.87 L625.91,181.97 L626.49,182.06 L627.06,182.15 L627.64,182.23 L628.22,182.31 L628.81,182.38 L629.39,182.44 L629.97,182.51 L630.55,182.56 L631.14,182.62 L631.72,182.66 L632.31,182.71 L632.90,182.75 L633.48,182.78 L634.07,182.82 L634.66,182.84 L635.24,182.87 L635.83,182.89 L636.42,182.91 L637.01,182.93 L637.60,182.94 L638.18,182.95 L638.77,182.95 L639.36,182.96 L639.95,182.96 L640.54,182.96 L641.13,182.96 L641.71,182.95 L642.30,182.94 L642.89,182.93 L643.48,182.92 L644.07,182.91 L644.66,182.89 L645.25,182.87 L645.83,182.86 L646.42,182.84 L647.01,182.81 L647.60,182.79 L648.19,182.77 L648.78,182.74 L649.37,182.72 L649.96,182.69 L650.55,182.66 L651.14,182.63 L651.72,182.61 L652.31,182.58 L652.90,182.55 L653.49,182.52 L654.08,182.49 L654.67,182.46 L655.26,182.43 L655.85,182.40 L656.44,182.37 L657.03,182.34 L657.62,182.31 L658.21,182.28 L658.79,182.25 L659.38,182.23 L659.97,182.20 L660.56,182.18 L661.15,182.15 L661.74,182.13 L662.33,182.11 L662.92,182.09 L663.51,182.07 L664.09,182.06 L664.68,182.04 L665.27,182.03 L665.86,182.02 L666.45,182.01 L667.04,182.00 L667.63,181.99 L668.22,181.99 L668.80,181.99 L669.39,181.99 L669.98,182.00 L670.57,182.01 L671.16,182.02 L671.74,182.03 L672.33,182.05 L672.92,182.07 L673.51,182.09 L674.10,182.11 L674.68,182.14 L675.27,182.18 L675.86,182.21 L676.45,182.25 L677.03,182.30 L677.62,182.34 L678.21,182.40 L678.79,182.45" fill="none" stroke="#d02e34" stroke-width="1.50" stroke-linejoin="round" stroke-linecap="butt"/>
<rect x="525.20" y="21.30" width="19.20" height="17.00" fill="#c4c4c4" stroke="#8c8c8c" stroke-width="1"/>
<text x="527.20" y="31.40" class="tt">u</text>
<text x="533.50" y="35.60" class="ts">k</text>
<rect x="627.40" y="66.20" width="43.60" height="36.10" fill="#fff" stroke="#aaaaaa" stroke-width="1"/>
<path d="M631.20,74.90 H655.80" stroke="#e39a40" stroke-width="1.50"/>
<path d="M631.20,92.30 H655.80" stroke="#d02e34" stroke-width="1.50"/>
<text x="658.20" y="78.90" class="tt" style="font-size:9.60px">i</text>
<text x="660.80" y="83.40" class="ts" style="font-size:9.20px">f</text>
<text x="658.00" y="95.30" class="tt" style="font-size:9.60px">y</text>
<text x="663.60" y="99.70" class="ts" style="font-size:9.20px">k</text>
<text x="531.70" y="232.60" class="tt" style="font-size:10.40px">L</text>
<text x="538.00" y="236.40" class="ts" style="font-size:10.00px">o</text>
<g transform="translate(359.90,119.60) rotate(-90)">
<text x="0.00" y="0.00" class="tt" style="font-size:10.70px">g</text>
<text x="6.50" y="4.40" class="ts" style="font-size:9.60px">c</text>
<text x="12.60" y="0.00" class="tt" style="font-size:10.70px">(M')</text>
</g>
</svg>
</body></html>
